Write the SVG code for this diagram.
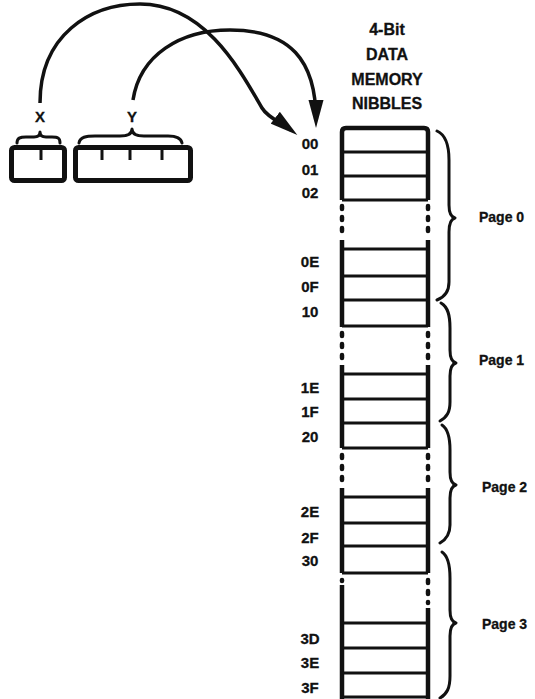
<svg xmlns="http://www.w3.org/2000/svg" width="535" height="699" viewBox="0 0 535 699">
<defs>
<style>
text{font-family:"Liberation Sans",Arial,sans-serif;font-weight:bold;font-size:15px;fill:#111;stroke:#111;stroke-width:0.3}
.mid{text-anchor:middle}
.hd{font-size:16px}
.pg{font-size:14px}
.v{stroke:#111;stroke-width:4.5;fill:none}
.dash{stroke:#111;stroke-width:4.5;fill:none;stroke-dasharray:3 8;stroke-linecap:round}
.h{stroke:#111;stroke-width:3;fill:none}
.brace{stroke:#111;stroke-width:3;fill:none;stroke-linecap:round;stroke-linejoin:round}
.reg{stroke:#111;stroke-width:5;fill:#fff}
.tick{stroke:#111;stroke-width:3}
.arc{stroke:#111;stroke-width:3.5;fill:none}
</style>
<marker id="ah" viewBox="0 0 28 16" refX="20" refY="8" markerWidth="28" markerHeight="16" markerUnits="userSpaceOnUse" orient="auto">
<path d="M0,0.5 L28,8 L0,15.5 z" fill="#111"/>
</marker>
</defs>
<rect width="535" height="699" fill="#fff"/>

<g id="reg-x">
<rect class="reg" x="11.5" y="147.5" width="53" height="33" rx="3"/>
<line class="tick" x1="41" y1="150" x2="41" y2="160"/>
<path class="brace" d="M17,143 C17,138 20,137 26,137 L34,137 C38,137 40,135 40,132 C40,135 42,137 46,137 L52,137 C58,137 60,138 60,143"/>
<text class="mid" x="40" y="122">X</text>
</g>

<g id="reg-y">
<rect class="reg" x="75.5" y="147.5" width="115" height="33" rx="3"/>
<line class="tick" x1="102" y1="150" x2="102" y2="160"/>
<line class="tick" x1="130" y1="150" x2="130" y2="160"/>
<line class="tick" x1="162" y1="150" x2="162" y2="160"/>
<path class="brace" d="M79,143 C80,137 86,136 95,136 L120,136 C128,136 132,134 132,129 C132,134 136,136 144,136 L168,136 C177,136 181,138 182,143"/>
<text class="mid" x="132" y="122">Y</text>
</g>

<g id="header">
<text class="mid hd" x="387" y="35">4-Bit</text>
<text class="mid hd" x="387" y="60">DATA</text>
<text class="mid hd" x="387" y="85">MEMORY</text>
<text class="mid hd" x="387" y="109">NIBBLES</text>
</g>

<g id="memory">
<path class="v" d="M342,200 L342,132 Q342,128 346,128 L424,128 Q428,128 428,132 L428,200"/>
<line class="v" x1="342" y1="240" x2="342" y2="327"/>
<line class="v" x1="428" y1="240" x2="428" y2="327"/>
<line class="v" x1="342" y1="365" x2="342" y2="448"/>
<line class="v" x1="428" y1="365" x2="428" y2="448"/>
<line class="v" x1="342" y1="488" x2="342" y2="573"/>
<line class="v" x1="428" y1="488" x2="428" y2="573"/>
<line class="v" x1="342" y1="585" x2="342" y2="699"/>
<line class="v" x1="428" y1="608" x2="428" y2="699"/>
<line class="dash" x1="342" y1="206" x2="342" y2="236"/>
<line class="dash" x1="428" y1="206" x2="428" y2="236"/>
<line class="dash" x1="342" y1="333" x2="342" y2="362"/>
<line class="dash" x1="428" y1="333" x2="428" y2="362"/>
<line class="dash" x1="342" y1="455" x2="342" y2="484"/>
<line class="dash" x1="428" y1="455" x2="428" y2="484"/>
<line class="dash" x1="342" y1="580" x2="342" y2="581"/>
<line class="dash" x1="428" y1="580" x2="428" y2="603"/>
<path class="h" d="M342,152H428M342,176H428M342,200H428M342,249H428M342,276H428M342,300H428M342,326H428M342,374H428M342,399H428M342,423H428M342,448H428M342,497H428M342,523H428M342,546H428M342,573H428M342,623H428M342,648H428M342,673H428M342,697H428"/>
</g>

<g id="addresses">
<text class="mid" x="310" y="149">00</text>
<text class="mid" x="310" y="175">01</text>
<text class="mid" x="310" y="198">02</text>
<text class="mid" x="310" y="267">0E</text>
<text class="mid" x="310" y="292">0F</text>
<text class="mid" x="310" y="317">10</text>
<text class="mid" x="310" y="393">1E</text>
<text class="mid" x="310" y="417">1F</text>
<text class="mid" x="310" y="442">20</text>
<text class="mid" x="310" y="517">2E</text>
<text class="mid" x="310" y="543">2F</text>
<text class="mid" x="310" y="566">30</text>
<text class="mid" x="310" y="644">3D</text>
<text class="mid" x="310" y="668">3E</text>
<text class="mid" x="310" y="693">3F</text>
</g>

<g id="page0">
<path class="brace" d="M437,131 C446,135 449,145 449,160 L449,205 C449,213 451,217 455,218 C451,219 449,224 449,232 L449,282 C449,292 445,297 437,300"/>
<text class="pg" x="479" y="222">Page 0</text>
</g>
<g id="page1">
<path class="brace" d="M441,303 C448,307 450,315 450,328 L450,350 C450,358 452,362 456,363 C452,364 450,368 450,376 L450,402 C450,412 447,417 440,421"/>
<text class="pg" x="479" y="365">Page 1</text>
</g>
<g id="page2">
<path class="brace" d="M442,425 C448,429 450,437 450,450 L450,472 C450,480 452,484 456,485 C452,486 450,490 450,498 L450,525 C450,534 447,539 440,543"/>
<text class="pg" x="482" y="492">Page 2</text>
</g>
<g id="page3">
<path class="brace" d="M442,552 C448,556 450,564 450,578 L450,610 C450,618 452,622 456,623 C452,624 450,628 450,636 L450,676 C450,688 447,694 440,698"/>
<text class="pg" x="482" y="629">Page 3</text>
</g>

<g id="connectors">
<path class="arc" marker-end="url(#ah)" d="M40,103 C40,35 90,4 140,4 C205,4 240,70 262,108 C268,118 282,123 291,130"/>
<path class="arc" marker-end="url(#ah)" d="M133,100 C140,55 180,30 230,30 C290,30 316,60 316,120"/>
</g>
</svg>
